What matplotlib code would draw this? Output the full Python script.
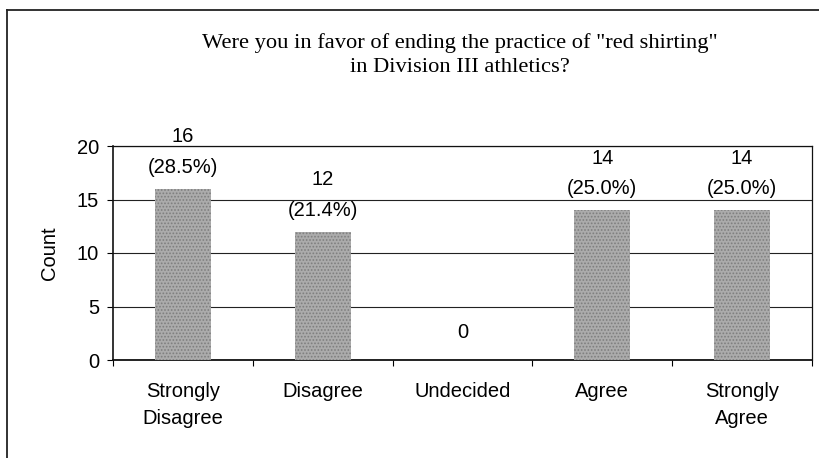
import matplotlib
matplotlib.use("Agg")
import matplotlib.pyplot as plt
from matplotlib.lines import Line2D

categories = ["Strongly\nDisagree", "Disagree", "Undecided", "Agree", "Strongly\nAgree"]
counts = [16, 12, 0, 14, 14]
percents = ["28.5%", "21.4%", None, "25.0%", "25.0%"]
yticks = [0, 5, 10, 15, 20]
title = 'Were you in favor of ending the practice of "red shirting"\nin Division III athletics?'

plt.rcParams['font.family'] = ['Liberation Sans', 'DejaVu Sans']
plt.rcParams['hatch.color'] = '#7e7e7e'
plt.rcParams['hatch.linewidth'] = 0.8

fig = plt.figure(figsize=(8.2, 4.58), dpi=100)
ax = fig.add_axes([113/820, 1-360/458, (812-113)/820, (360-146)/458])

x = list(range(len(categories)))
ax.bar(x, counts, width=0.4, color='#ababab', hatch='.....',
       linewidth=0, zorder=3)

fs = 14.5
for xi, c, p in zip(x, counts, percents):
    if p:
        ax.annotate(f"({p})", (xi, c), xytext=(0, 15.5), textcoords='offset points',
                    ha='center', va='center', fontsize=fs, zorder=4)
        ax.annotate(f"{c}", (xi, c), xytext=(0, 37.5), textcoords='offset points',
                    ha='center', va='center', fontsize=fs, zorder=4)
    else:
        ax.annotate(f"{c}", (xi, c), xytext=(0, 20), textcoords='offset points',
                    ha='center', va='center', fontsize=fs, zorder=4)

ax.set_xlim(-0.5, len(categories) - 0.5)
ax.set_ylim(0, 20)
ax.set_yticks(yticks)
ax.set_yticklabels([str(t) for t in yticks], fontsize=fs)
ax.set_xticks([i + 0.5 for i in range(-1, len(categories))], minor=False)
ax.set_xticklabels([])
ax.set_xticks(x, minor=True)
ax.set_xticklabels(categories, minor=True, fontsize=fs, linespacing=1.55)
ax.tick_params(axis='x', which='major', length=4, direction='out', width=0.8)
ax.tick_params(axis='x', which='minor', length=0, pad=16)
ax.tick_params(axis='y', length=4, direction='out', width=0.8, pad=6)
ax.yaxis.grid(True, color='#222222', linewidth=0.8, zorder=0)
ax.set_axisbelow(True)
for s in ax.spines.values():
    s.set_linewidth(0.9)
    s.set_color('#111111')
ax.spines['left'].set_linewidth(1.2)
ax.spines['bottom'].set_linewidth(1.3)
ax.set_ylabel("Count", fontsize=fs, labelpad=13)

fig.text(0.561, 1-55/458, title, ha='center', va='center', fontsize=16.2,
         family=['Liberation Serif', 'DejaVu Serif'], linespacing=1.38)

# outer chart border (left and top edges)
fig.add_artist(Line2D([7/820, 7/820], [0, 1-10/458], transform=fig.transFigure,
                      color='#222222', linewidth=1.3))
fig.add_artist(Line2D([7/820, 1], [1-10/458, 1-10/458], transform=fig.transFigure,
                      color='#222222', linewidth=1.3))

fig.savefig("out.png", dpi=100)
